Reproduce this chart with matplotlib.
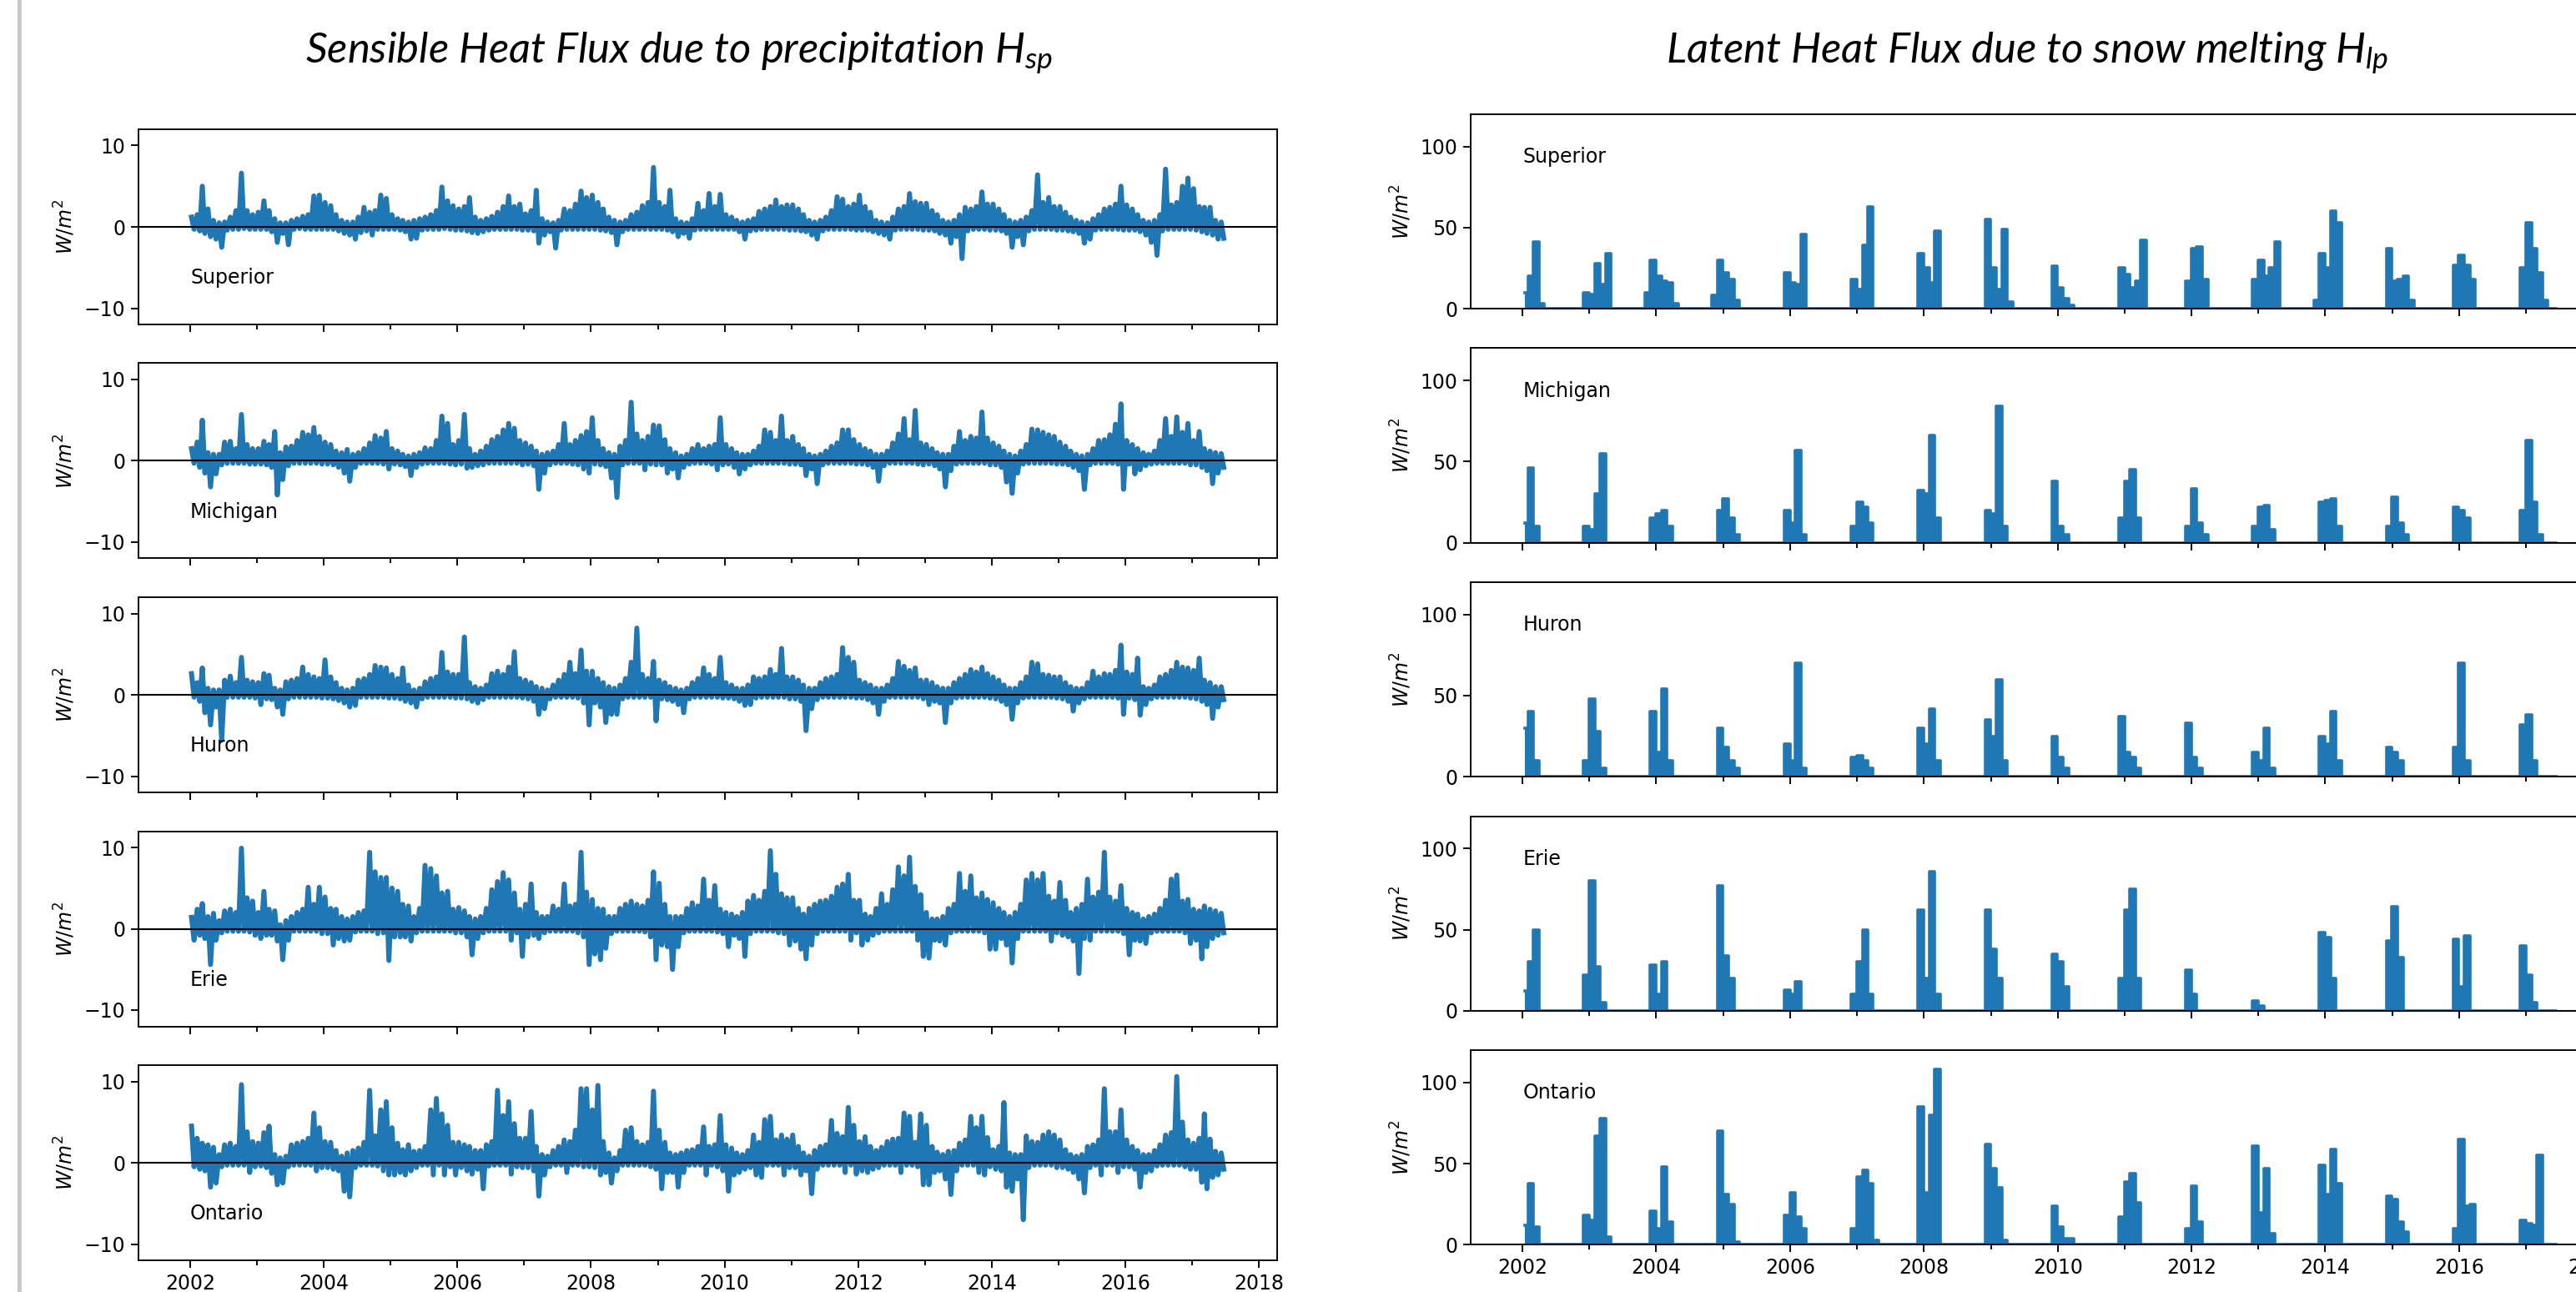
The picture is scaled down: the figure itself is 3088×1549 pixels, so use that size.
import numpy as np
import matplotlib.pyplot as plt
import matplotlib.dates as mdates
from matplotlib.lines import Line2D
from datetime import datetime

plt.rcParams['mathtext.fontset'] = 'custom'
plt.rcParams['mathtext.it'] = 'Lato:italic'
plt.rcParams['mathtext.rm'] = 'Lato'

lakes = ['Superior', 'Michigan', 'Huron', 'Erie', 'Ontario']

################# H_sp : monthly max / min (W/m2), Jan 2002 .. Jun 2017 #################
hsp_hi_superior = [
    1.2, 1.5, 5.0, 2.2, 0.8, 0.5, 0.6, 1.2, 2.0, 6.6, 2.0, 1.5,
    1.8, 3.2, 2.0, 1.0, 0.5, 0.5, 0.8, 1.0, 1.3, 1.5, 3.8, 3.9,
    3.0, 2.6, 1.5, 0.8, 0.6, 0.6, 1.2, 2.4, 1.8, 2.0, 3.9, 3.5,
    1.5, 1.0, 0.8, 0.6, 0.8, 1.0, 1.2, 1.5, 2.0, 4.9, 3.2, 2.6,
    2.2, 2.5, 3.6, 1.2, 0.8, 1.0, 1.3, 1.8, 2.5, 3.8, 2.5, 2.8,
    1.6, 2.0, 4.5, 1.0, 0.6, 0.5, 0.8, 2.2, 2.0, 2.8, 4.4, 3.6,
    3.9, 3.0, 2.2, 1.2, 0.8, 0.6, 0.8, 1.5, 1.8, 2.6, 3.0, 7.3,
    3.0, 2.5, 4.5, 1.0, 0.6, 0.5, 1.0, 2.9, 2.0, 4.1, 2.5, 4.0,
    1.5, 1.2, 0.8, 0.6, 0.8, 1.0, 1.9, 2.2, 2.5, 3.3, 2.5, 2.7,
    2.7, 2.2, 1.5, 0.8, 0.6, 0.8, 1.2, 2.0, 3.7, 3.4, 2.5, 2.8,
    3.9, 2.5, 1.8, 0.8, 0.6, 0.5, 1.2, 2.2, 2.5, 4.1, 3.1, 2.9,
    2.9, 2.0, 1.5, 0.8, 0.6, 0.8, 1.5, 2.4, 2.2, 2.5, 4.3, 2.8,
    2.8, 2.2, 1.5, 0.8, 0.6, 0.8, 1.2, 2.0, 6.4, 3.0, 3.6, 2.5,
    2.5, 1.8, 1.2, 0.8, 0.6, 0.5, 1.0, 1.5, 2.2, 2.4, 2.8, 5.0,
    2.7, 2.2, 1.5, 0.8, 0.6, 0.8, 1.5, 7.1, 2.7, 3.0, 5.0, 6.0,
    4.7, 2.5, 2.4, 2.4, 0.8, 0.6]
hsp_lo_superior = [
    -0.3, -0.5, -0.8, -1.2, -1.5, -2.5, -0.4, -0.3, -0.3, -0.2, -0.3, -0.3,
    -0.3, -0.3, -0.6, -1.9, -0.8, -2.2, -0.3, -0.2, -0.3, -0.3, -0.3, -0.3,
    -0.3, -0.3, -0.5, -0.8, -1.0, -1.5, -0.7, -0.5, -1.0, -0.3, -0.3, -0.3,
    -0.3, -0.4, -0.6, -1.5, -1.4, -0.4, -0.3, -0.3, -0.3, -0.2, -0.3, -0.4,
    -0.4, -0.5, -0.7, -0.8, -0.6, -0.4, -0.3, -0.3, -0.3, -0.3, -0.3, -0.4,
    -0.4, -0.5, -2.0, -1.0, -0.6, -2.6, -0.4, -0.3, -0.3, -0.3, -0.3, -0.3,
    -0.3, -0.4, -0.5, -0.7, -2.2, -0.6, -0.3, -0.3, -0.3, -0.3, -0.3, -0.3,
    -0.3, -0.4, -0.6, -1.2, -0.8, -1.4, -0.4, -0.3, -0.3, -0.3, -0.3, -0.3,
    -0.3, -0.3, -0.6, -1.5, -0.5, -0.4, -0.3, -0.3, -0.3, -0.3, -0.3, -0.4,
    -0.4, -0.5, -0.6, -1.0, -1.5, -0.5, -0.3, -0.3, -0.3, -0.3, -0.3, -0.4,
    -0.4, -0.4, -0.6, -0.8, -1.0, -1.5, -0.4, -0.3, -0.3, -0.3, -0.3, -0.4,
    -0.4, -0.5, -0.8, -1.0, -2.0, -1.2, -3.9, -0.5, -0.3, -0.3, -0.3, -0.4,
    -0.4, -0.5, -0.8, -2.5, -1.2, -2.2, -0.5, -0.3, -0.3, -0.3, -0.3, -0.4,
    -0.4, -0.5, -0.6, -0.8, -2.0, -1.5, -0.4, -0.3, -0.3, -0.3, -0.3, -0.4,
    -0.4, -0.4, -0.6, -1.0, -1.9, -3.5, -0.5, -0.3, -0.3, -0.3, -0.3, -0.3,
    -0.4, -0.6, -0.8, -1.0, -1.5, -1.4]

hsp_hi_michigan = [
    1.5, 2.3, 5.0, 1.0, 0.8, 0.8, 2.3, 2.4, 1.5, 5.7, 2.0, 1.5,
    1.5, 2.4, 2.0, 3.6, 1.0, 1.7, 1.8, 2.5, 3.5, 3.2, 4.1, 3.0,
    2.3, 2.0, 1.2, 1.0, 1.4, 0.8, 1.0, 1.5, 2.2, 3.1, 2.8, 3.6,
    1.5, 1.2, 0.8, 0.6, 0.8, 1.0, 1.6, 1.5, 2.5, 5.5, 4.6, 2.0,
    2.5, 5.7, 1.5, 0.8, 1.2, 1.8, 2.6, 3.0, 3.8, 4.6, 4.0, 2.5,
    2.2, 1.8, 1.2, 0.8, 1.0, 1.2, 2.0, 4.6, 2.0, 2.5, 3.1, 3.6,
    5.3, 2.5, 1.5, 1.0, 0.8, 1.8, 2.5, 7.2, 3.3, 2.5, 3.0, 4.4,
    4.3, 2.6, 1.5, 1.0, 0.6, 0.8, 1.5, 2.0, 1.5, 1.8, 2.0, 5.3,
    2.0, 1.5, 1.0, 0.8, 0.8, 1.2, 1.8, 3.8, 3.5, 2.5, 5.5, 2.5,
    3.0, 2.0, 1.5, 0.8, 0.6, 0.8, 1.2, 1.8, 2.2, 3.8, 3.8, 2.6,
    2.0, 1.5, 1.2, 0.8, 0.8, 1.2, 2.2, 3.3, 5.2, 2.6, 6.2, 2.2,
    2.0, 1.5, 1.0, 0.8, 0.8, 1.8, 3.6, 2.5, 3.0, 2.8, 6.0, 2.8,
    2.2, 1.8, 1.2, 0.8, 0.6, 1.2, 2.0, 3.9, 3.8, 3.5, 3.2, 3.0,
    2.3, 1.8, 1.2, 0.8, 0.6, 0.8, 1.5, 2.5, 2.6, 3.2, 4.5, 7.0,
    2.5, 2.0, 1.5, 1.0, 0.8, 1.2, 2.5, 5.2, 3.0, 5.4, 3.5, 4.6,
    2.5, 3.6, 1.5, 1.2, 1.0, 0.9]
hsp_lo_michigan = [
    -0.3, -0.8, -1.5, -3.2, -1.6, -0.5, -0.3, -0.3, -0.3, -0.3, -0.4, -0.4,
    -0.4, -0.5, -0.8, -4.2, -2.3, -0.6, -0.3, -0.3, -0.3, -0.3, -0.3, -0.4,
    -0.4, -0.5, -0.8, -1.5, -2.5, -0.8, -0.3, -0.3, -0.3, -0.3, -0.4, -1.0,
    -0.4, -0.5, -0.7, -1.8, -0.8, -0.4, -0.3, -0.3, -0.3, -0.3, -0.4, -0.5,
    -0.4, -0.9, -0.8, -0.6, -0.5, -0.3, -0.3, -0.3, -0.3, -0.3, -0.3, -0.5,
    -0.4, -0.6, -3.5, -1.5, -0.5, -0.3, -0.3, -0.3, -0.4, -0.5, -1.0, -1.5,
    -0.4, -0.5, -0.7, -2.1, -4.5, -0.5, -0.3, -0.3, -0.3, -1.1, -0.4, -0.5,
    -0.5, -1.5, -1.0, -2.1, -0.8, -0.4, -0.3, -0.3, -0.3, -0.4, -1.1, -0.5,
    -0.4, -0.8, -1.6, -1.0, -0.5, -0.3, -0.3, -0.3, -0.3, -0.3, -0.3, -0.4,
    -0.4, -0.5, -1.8, -1.0, -2.8, -0.5, -0.3, -0.3, -0.3, -0.3, -0.3, -0.4,
    -0.4, -0.5, -0.8, -2.5, -0.6, -0.3, -0.3, -0.3, -0.3, -0.3, -0.4, -0.5,
    -0.4, -0.6, -1.0, -3.2, -1.2, -0.4, -0.3, -0.3, -0.3, -0.3, -0.3, -0.5,
    -0.5, -0.8, -2.6, -4.0, -1.5, -0.4, -0.3, -0.3, -0.3, -0.3, -0.3, -0.4,
    -0.4, -0.5, -0.8, -1.2, -3.5, -0.5, -0.3, -0.3, -0.3, -0.3, -0.4, -3.5,
    -0.4, -1.6, -1.1, -0.6, -0.4, -0.3, -0.3, -0.3, -0.3, -0.3, -0.3, -0.5,
    -0.5, -0.8, -1.2, -2.8, -1.5, -0.8]

hsp_hi_huron = [
    2.6, 1.5, 3.3, 0.8, 0.6, 0.6, 1.8, 2.3, 1.5, 4.6, 1.8, 1.6,
    1.5, 2.6, 2.4, 0.8, 0.6, 1.6, 1.8, 2.0, 3.4, 2.5, 2.2, 2.0,
    4.3, 2.2, 1.5, 0.8, 0.6, 0.8, 1.8, 2.0, 2.5, 3.6, 3.4, 3.3,
    2.5, 2.0, 3.3, 1.2, 0.6, 0.8, 1.6, 2.0, 2.2, 5.2, 2.8, 2.5,
    2.5, 7.1, 1.5, 1.0, 0.8, 1.2, 2.6, 2.9, 2.5, 3.4, 5.3, 2.0,
    1.8, 1.5, 1.0, 0.8, 0.6, 1.2, 1.8, 2.5, 4.0, 2.6, 5.5, 2.9,
    2.9, 2.0, 1.5, 1.0, 0.8, 1.2, 2.0, 4.0, 8.2, 2.5, 2.0, 4.1,
    1.8, 1.5, 1.0, 0.8, 0.6, 0.8, 1.5, 2.0, 3.3, 2.5, 2.0, 4.6,
    1.5, 1.2, 0.8, 0.8, 1.2, 2.2, 2.0, 2.2, 3.1, 2.5, 5.7, 2.2,
    2.2, 1.8, 1.2, 0.8, 0.8, 1.5, 2.0, 2.2, 2.5, 5.8, 4.6, 4.0,
    1.8, 1.5, 1.2, 0.8, 0.8, 1.2, 2.0, 4.1, 3.5, 3.0, 3.3, 1.8,
    1.8, 1.5, 1.0, 0.8, 0.8, 1.5, 2.0, 2.5, 3.1, 2.8, 3.4, 2.6,
    2.2, 1.8, 1.2, 0.8, 0.8, 1.5, 2.2, 4.0, 3.8, 2.5, 2.4, 2.2,
    2.2, 1.5, 1.0, 0.8, 0.8, 1.5, 2.9, 2.2, 2.6, 2.5, 3.0, 6.1,
    2.8, 2.5, 4.5, 1.0, 0.8, 1.2, 2.2, 2.5, 3.0, 4.0, 3.4, 3.3,
    3.0, 4.5, 1.8, 1.5, 1.0, 1.0]
hsp_lo_huron = [
    -0.3, -0.8, -2.2, -3.7, -1.5, -5.6, -0.3, -0.3, -0.3, -0.3, -0.3, -0.4,
    -1.2, -0.5, -0.6, -1.5, -2.4, -0.5, -0.3, -0.3, -0.3, -0.3, -0.3, -0.4,
    -0.4, -0.5, -0.7, -1.0, -1.5, -1.3, -0.3, -0.3, -0.3, -0.3, -0.3, -0.4,
    -0.4, -0.5, -0.8, -1.0, -1.5, -0.5, -0.3, -0.3, -0.3, -0.3, -0.3, -0.4,
    -0.4, -0.5, -0.8, -1.0, -0.6, -0.3, -0.3, -0.3, -0.3, -0.3, -0.3, -0.4,
    -0.5, -0.8, -2.4, -1.7, -0.5, -0.3, -0.3, -0.3, -0.3, -0.4, -1.0, -3.7,
    -1.0, -1.5, -3.4, -2.4, -2.4, -0.5, -0.3, -0.3, -0.3, -0.3, -0.3, -3.2,
    -0.5, -0.6, -0.8, -1.2, -2.2, -0.5, -0.3, -0.3, -0.3, -0.3, -0.3, -0.4,
    -0.4, -0.5, -0.8, -1.3, -1.2, -0.4, -0.3, -0.3, -0.3, -0.3, -0.3, -0.5,
    -0.5, -0.8, -4.4, -1.7, -0.6, -0.3, -0.3, -0.3, -0.3, -0.3, -0.3, -0.4,
    -0.4, -0.6, -1.0, -2.4, -0.8, -0.3, -0.3, -0.3, -0.3, -0.3, -0.3, -0.5,
    -1.2, -0.8, -1.0, -3.4, -1.0, -0.4, -0.3, -0.3, -0.3, -0.3, -0.3, -0.4,
    -0.5, -0.8, -1.2, -3.0, -1.0, -0.4, -0.3, -0.3, -0.3, -0.3, -0.3, -0.4,
    -0.5, -0.8, -2.0, -1.0, -0.5, -0.3, -0.3, -0.3, -0.3, -0.3, -0.4, -2.4,
    -0.4, -0.6, -2.5, -1.2, -0.5, -0.3, -0.3, -0.3, -0.3, -0.3, -0.3, -0.4,
    -0.5, -0.8, -1.2, -2.9, -1.5, -0.6]

hsp_hi_erie = [
    1.4, 2.4, 3.1, 1.5, 1.9, 1.0, 2.2, 2.4, 2.0, 9.9, 3.8, 3.4,
    2.0, 4.6, 2.4, 2.2, 0.5, 1.0, 1.5, 2.0, 2.4, 5.1, 3.0, 5.1,
    3.9, 2.5, 2.4, 1.5, 1.2, 1.5, 2.0, 2.2, 9.4, 7.0, 6.3, 6.3,
    5.0, 4.6, 3.0, 2.8, 1.5, 2.5, 7.8, 7.4, 6.5, 4.4, 4.6, 2.4,
    2.6, 2.2, 1.5, 1.2, 1.5, 2.5, 4.8, 5.8, 6.9, 6.0, 4.4, 2.4,
    3.0, 5.5, 2.0, 1.5, 1.5, 2.8, 2.4, 5.5, 2.8, 3.0, 9.4, 4.5,
    3.6, 2.5, 2.4, 1.5, 1.5, 2.5, 3.0, 3.4, 3.0, 2.8, 3.5, 7.0,
    5.6, 3.0, 1.5, 1.5, 1.5, 2.5, 3.2, 2.8, 6.1, 3.5, 5.3, 2.4,
    2.0, 1.8, 1.5, 2.0, 3.4, 4.1, 3.5, 4.6, 9.6, 6.7, 4.3, 3.8,
    3.8, 2.5, 1.8, 2.5, 3.0, 3.4, 3.5, 4.0, 5.1, 5.5, 6.7, 3.5,
    3.5, 1.8, 1.5, 2.5, 4.3, 3.0, 4.8, 7.6, 6.5, 8.8, 5.2, 4.2,
    2.0, 1.2, 1.2, 1.5, 2.5, 3.0, 6.8, 4.6, 6.5, 3.8, 4.4, 3.6,
    3.2, 2.5, 2.0, 1.5, 2.0, 3.0, 6.0, 6.8, 6.0, 6.8, 4.0, 3.4,
    5.7, 3.5, 2.0, 2.5, 3.0, 6.1, 3.9, 4.5, 9.4, 3.9, 3.4, 5.3,
    2.5, 2.0, 1.8, 1.2, 1.5, 1.8, 2.5, 3.5, 6.1, 6.6, 3.4, 3.6,
    2.4, 2.2, 2.8, 2.4, 2.2, 1.9]
hsp_lo_erie = [
    -1.4, -0.8, -1.2, -4.4, -1.4, -0.5, -0.3, -0.3, -0.3, -0.3, -0.4, -0.8,
    -1.2, -0.8, -0.8, -1.5, -3.8, -1.4, -0.3, -0.3, -0.3, -0.3, -0.3, -0.6,
    -0.6, -2.0, -1.2, -1.5, -1.4, -0.4, -0.3, -0.3, -0.3, -0.6, -0.5, -3.9,
    -1.0, -1.0, -1.0, -1.5, -0.5, -0.3, -0.3, -0.3, -0.3, -0.3, -0.3, -0.5,
    -0.5, -1.0, -3.2, -1.2, -0.5, -0.3, -0.3, -0.3, -0.3, -1.4, -0.5, -3.4,
    -1.0, -0.8, -1.2, -0.5, -0.3, -0.3, -0.3, -0.3, -0.3, -0.5, -1.0, -4.4,
    -3.1, -3.8, -2.4, -0.6, -0.3, -0.3, -0.3, -0.3, -0.3, -0.4, -1.0, -3.8,
    -2.0, -2.2, -5.0, -2.2, -0.5, -0.3, -0.3, -0.3, -0.3, -0.3, -0.4, -0.6,
    -2.2, -0.8, -1.2, -3.4, -0.6, -0.3, -0.3, -0.3, -0.3, -0.5, -0.6, -2.0,
    -1.5, -2.5, -3.7, -2.0, -0.6, -0.3, -0.3, -0.3, -0.3, -0.3, -1.4, -0.5,
    -2.0, -1.4, -0.8, -0.5, -0.3, -0.3, -0.3, -0.3, -0.3, -0.3, -1.4, -3.4,
    -3.6, -1.4, -1.5, -2.0, -0.5, -0.3, -0.3, -0.3, -0.3, -0.3, -0.5, -2.5,
    -2.5, -1.2, -2.0, -4.2, -1.2, -0.3, -0.3, -0.3, -0.3, -0.3, -1.5, -0.5,
    -0.8, -1.0, -1.5, -5.5, -1.2, -1.4, -0.3, -0.3, -0.3, -0.3, -0.3, -0.6,
    -3.2, -1.4, -1.5, -1.8, -0.5, -0.3, -0.3, -0.3, -0.3, -0.3, -0.5, -1.8,
    -1.4, -3.7, -2.2, -1.2, -0.8, -0.5]

hsp_hi_ontario = [
    4.5, 3.0, 2.4, 2.2, 1.9, 1.0, 2.2, 2.4, 2.0, 9.6, 3.8, 2.6,
    2.4, 3.7, 4.5, 1.0, 0.6, 0.8, 2.2, 2.4, 2.6, 3.0, 6.1, 4.3,
    2.6, 2.5, 1.5, 0.8, 1.2, 1.5, 1.8, 2.5, 8.9, 3.3, 6.5, 7.5,
    4.3, 2.4, 1.6, 2.2, 1.4, 1.5, 2.0, 6.5, 7.9, 6.0, 4.6, 2.5,
    2.5, 2.2, 2.0, 1.5, 1.5, 2.2, 2.6, 8.9, 5.8, 7.5, 4.8, 3.0,
    3.0, 6.3, 2.0, 1.0, 0.8, 1.5, 2.0, 2.8, 2.6, 4.0, 9.1, 9.1,
    6.5, 9.5, 2.6, 1.2, 0.6, 1.5, 4.0, 4.3, 2.6, 2.2, 2.5, 8.8,
    4.0, 2.5, 1.2, 1.0, 1.2, 1.5, 1.6, 2.0, 4.4, 2.0, 2.2, 5.8,
    2.2, 1.8, 1.2, 1.0, 1.5, 3.4, 2.5, 5.3, 5.7, 2.8, 3.4, 2.9,
    3.4, 2.0, 1.2, 0.8, 1.5, 2.0, 2.2, 5.2, 3.6, 3.2, 6.8, 4.6,
    2.6, 3.2, 2.0, 1.5, 1.9, 2.6, 2.9, 3.0, 6.1, 5.7, 2.5, 6.0,
    4.6, 2.0, 1.3, 1.0, 1.4, 1.5, 2.4, 2.8, 5.7, 4.3, 5.7, 3.1,
    1.6, 2.0, 7.4, 1.2, 1.0, 1.0, 3.3, 2.6, 2.5, 3.4, 3.8, 3.4,
    2.8, 1.6, 1.0, 0.8, 1.0, 2.0, 2.2, 2.8, 9.1, 3.8, 3.8, 6.5,
    2.8, 2.0, 1.5, 1.0, 1.0, 1.5, 2.2, 3.4, 3.7, 10.6, 5.0, 2.8,
    2.4, 3.0, 6.0, 2.9, 1.4, 1.2]
hsp_lo_ontario = [
    -0.5, -0.8, -1.0, -3.0, -2.5, -0.5, -0.3, -0.3, -0.3, -0.3, -1.2, -0.5,
    -0.4, -0.6, -1.3, -2.7, -2.5, -0.5, -0.3, -0.3, -0.3, -0.3, -1.0, -0.6,
    -0.6, -0.8, -1.0, -3.5, -4.2, -0.6, -0.3, -0.3, -0.3, -0.4, -1.0, -1.5,
    -1.5, -1.2, -1.5, -1.0, -0.6, -0.3, -0.3, -1.5, -0.3, -1.5, -0.5, -1.5,
    -0.6, -1.0, -1.4, -0.8, -3.2, -0.4, -0.3, -0.3, -0.3, -1.4, -0.5, -0.6,
    -0.6, -1.0, -4.1, -1.5, -0.5, -0.3, -0.3, -1.2, -0.3, -0.3, -0.5, -0.5,
    -0.6, -1.5, -1.2, -2.5, -1.0, -0.3, -0.3, -0.3, -0.3, -0.3, -0.5, -0.8,
    -3.2, -1.2, -1.2, -3.0, -1.2, -0.3, -0.3, -0.3, -1.5, -0.3, -0.5, -1.0,
    -3.5, -1.5, -1.2, -0.8, -0.6, -1.5, -1.8, -0.3, -0.3, -0.3, -1.5, -0.6,
    -0.6, -1.5, -1.0, -3.8, -0.8, -0.3, -0.3, -0.3, -0.3, -1.2, -0.3, -1.4,
    -1.0, -1.2, -0.8, -0.6, -0.3, -0.3, -0.3, -1.2, -0.3, -0.3, -0.5, -2.7,
    -2.7, -1.2, -1.0, -2.0, -3.9, -1.0, -0.3, -0.3, -0.3, -1.2, -1.5, -0.5,
    -0.8, -1.0, -3.0, -3.5, -2.0, -7.0, -0.6, -0.3, -0.3, -0.3, -0.3, -0.6,
    -0.6, -0.8, -1.2, -2.0, -3.7, -0.6, -0.3, -1.5, -0.3, -0.3, -1.2, -0.5,
    -0.5, -0.8, -3.0, -1.2, -1.0, -0.4, -0.3, -0.3, -0.3, -0.3, -0.5, -0.8,
    -0.8, -2.4, -3.2, -1.8, -1.5, -0.8]

########## H_lp : winter monthly peaks (W/m2), columns Nov Dec Jan Feb Mar Apr ##########
# one row per winter, labelled by the January year 2002 .. 2017
winter_cols = [-2, -1, 0, 1, 2, 3]
hlp_superior = [
    [0, 0, 10, 20, 41, 3], [0, 10, 9, 28, 15, 34], [10, 30, 20, 17, 16, 3],
    [8, 30, 22, 18, 5, 0], [0, 22, 16, 15, 46, 0], [0, 18, 12, 39, 63, 0],
    [0, 34, 25, 16, 48, 0], [0, 55, 25, 12, 49, 4], [0, 26, 13, 6, 2, 0],
    [0, 25, 21, 13, 17, 42], [0, 17, 37, 38, 18, 0], [0, 18, 30, 20, 25, 41],
    [5, 34, 25, 60, 53, 0], [0, 37, 17, 18, 20, 5], [0, 27, 33, 27, 18, 0],
    [0, 25, 53, 37, 22, 5]]
hlp_michigan = [
    [0, 0, 12, 46, 10, 0], [0, 10, 8, 30, 55, 0], [0, 15, 18, 20, 10, 0],
    [0, 20, 27, 15, 5, 0], [0, 20, 12, 57, 5, 0], [0, 10, 25, 22, 12, 0],
    [0, 32, 30, 66, 15, 0], [0, 20, 18, 84, 10, 0], [0, 38, 10, 5, 0, 0],
    [0, 15, 38, 45, 15, 0], [0, 10, 33, 12, 5, 0], [0, 10, 22, 23, 8, 0],
    [0, 25, 26, 27, 10, 0], [0, 10, 28, 12, 5, 0], [0, 22, 20, 15, 0, 0],
    [0, 20, 63, 25, 5, 0]]
hlp_huron = [
    [0, 0, 30, 40, 10, 0], [0, 10, 48, 28, 5, 0], [0, 40, 15, 54, 10, 0],
    [0, 30, 18, 10, 5, 0], [0, 20, 10, 70, 5, 0], [0, 12, 13, 10, 5, 0],
    [0, 30, 20, 42, 10, 0], [0, 35, 25, 60, 10, 0], [0, 25, 12, 5, 0, 0],
    [0, 37, 15, 12, 5, 0], [0, 33, 12, 5, 0, 0], [0, 15, 10, 30, 5, 0],
    [0, 25, 20, 40, 10, 0], [0, 18, 15, 10, 0, 0], [0, 18, 70, 10, 0, 0],
    [0, 32, 38, 10, 0, 0]]
hlp_erie = [
    [0, 0, 12, 30, 50, 0], [0, 22, 80, 27, 5, 0], [0, 28, 10, 30, 0, 0],
    [0, 77, 34, 20, 0, 0], [0, 13, 10, 18, 0, 0], [0, 10, 30, 50, 10, 0],
    [0, 62, 20, 86, 10, 0], [0, 62, 38, 20, 0, 0], [0, 35, 30, 15, 0, 0],
    [0, 20, 62, 75, 20, 0], [0, 25, 10, 0, 0, 0], [0, 6, 3, 0, 0, 0],
    [0, 48, 45, 20, 0, 0], [0, 43, 64, 33, 0, 0], [0, 44, 15, 46, 0, 0],
    [0, 40, 22, 5, 0, 0]]
hlp_ontario = [
    [0, 0, 12, 38, 11, 0], [0, 18, 15, 67, 78, 5], [0, 21, 10, 48, 14, 0],
    [0, 70, 31, 25, 2, 0], [0, 18, 32, 17, 10, 0], [0, 10, 42, 46, 38, 3],
    [0, 85, 32, 80, 108, 0], [0, 62, 47, 35, 3, 0], [0, 24, 11, 4, 4, 0],
    [0, 17, 39, 44, 26, 0], [0, 10, 36, 14, 0, 0], [0, 61, 20, 47, 7, 0],
    [0, 49, 31, 59, 38, 0], [0, 30, 28, 14, 8, 0], [0, 10, 65, 24, 25, 0],
    [0, 15, 13, 12, 55, 0]]

hsp_hi = [hsp_hi_superior, hsp_hi_michigan, hsp_hi_huron, hsp_hi_erie, hsp_hi_ontario]
hsp_lo = [hsp_lo_superior, hsp_lo_michigan, hsp_lo_huron, hsp_lo_erie, hsp_lo_ontario]
hlp = [hlp_superior, hlp_michigan, hlp_huron, hlp_erie, hlp_ontario]

############# time axis ################
months = np.arange('2002-01', '2017-07', dtype='datetime64[M]').astype('datetime64[D]')
n_month = len(months)


def winter_to_monthly(rows):
    vals = np.zeros(n_month)
    for i, row in enumerate(rows):
        for off, v in zip(winter_cols, row):
            idx = i * 12 + off
            if 0 <= idx < n_month:
                vals[idx] = v
    return vals


########################## PLOT ######################################
W, H = 3088, 1549
fig = plt.figure(figsize=(W / 100, H / 100), dpi=100)

blue = '#1f77b4'
fs = 17
xlim = (datetime(2001, 3, 24), datetime(2018, 4, 10))

left_tops = [155, 435.5, 716, 996.5, 1277]
right_tops = [136.7, 417.3, 697.9, 978.5, 1259.1]


def style_axis(ax, bottom):
    ax.set_xlim(*xlim)
    ax.xaxis.set_major_locator(mdates.YearLocator(2))
    ax.xaxis.set_minor_locator(mdates.YearLocator(1))
    ax.xaxis.set_major_formatter(mdates.DateFormatter('%Y'))
    ax.tick_params(which='major', length=6.5, width=1.36, labelsize=fs, pad=5)
    ax.tick_params(which='minor', length=4.3, width=1.36)
    if not bottom:
        ax.tick_params(labelbottom=False)
    for s in ax.spines.values():
        s.set_linewidth(1.36)
    ax.set_ylabel(r'$W/m^2$', fontsize=fs, math_fontfamily='dejavusans', labelpad=6)


for i, lake in enumerate(lakes):
    # sensible heat flux (left column)
    ax = fig.add_axes([166 / W, 1 - (left_tops[i] + 234) / H, 1365 / W, 234 / H])
    xs = np.column_stack([months + 7, months + 21]).ravel()
    ys = np.column_stack([hsp_hi[i], hsp_lo[i]]).ravel()
    ax.plot(xs, ys, color=blue, lw=4.3)
    ax.axhline(0, color='k', lw=1.5)
    ax.set_ylim(-12, 12)
    ax.set_yticks([-10, 0, 10])
    ax.text(datetime(2002, 1, 1), -7, lake, fontsize=fs)
    style_axis(ax, i == 4)

    # latent heat flux (right column)
    ax2 = fig.add_axes([1763 / W, 1 - (right_tops[i] + 233.3) / H, 1367 / W, 233.3 / H])
    xm = months + 14
    ym = winter_to_monthly(hlp[i])
    ax2.fill_between(xm, 0, ym, step='mid', color=blue, lw=0)
    ax2.plot(xm, ym, drawstyle='steps-mid', color=blue, lw=2.6)
    ax2.axhline(0, color='k', lw=1.5)
    ax2.set_ylim(0, 120)
    ax2.set_yticks([0, 50, 100])
    ax2.text(datetime(2002, 1, 1), 90, lake, fontsize=fs)
    style_axis(ax2, i == 4)

fig.text(814 / W, 1 - 75 / H, r'Sensible Heat Flux due to precipitation $H_{sp}$',
         ha='center', va='baseline', fontsize=36.5, family='Lato', style='italic')
fig.text(2430 / W, 1 - 75 / H, r'Latent Heat Flux due to snow melting $H_{lp}$',
         ha='center', va='baseline', fontsize=36.5, family='Lato', style='italic')

# slide border on the left
fig.add_artist(Line2D([23 / W, 23 / W], [0, 1], transform=fig.transFigure,
                      color='#c8c8c8', lw=3.5))

fig.savefig('out.png', dpi=100)
